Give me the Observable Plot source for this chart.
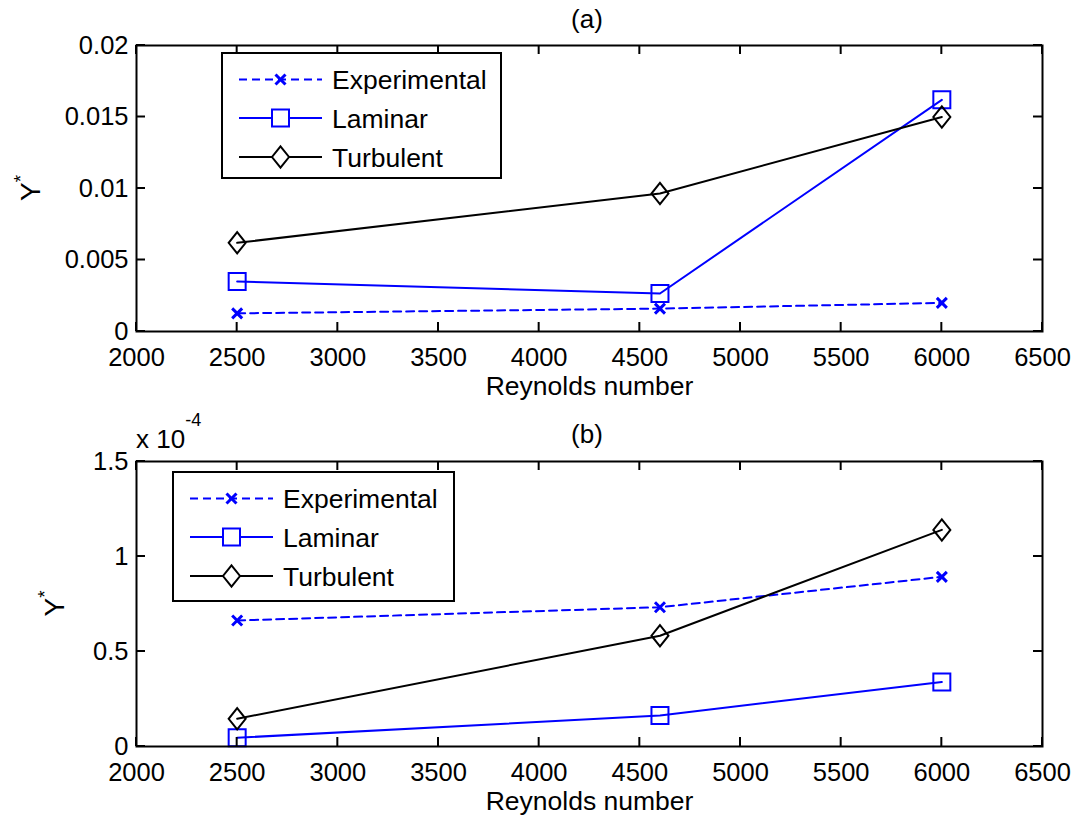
<!DOCTYPE html>
<html>
<head>
<meta charset="utf-8">
<script src="https://cdn.jsdelivr.net/npm/d3@7"></script>
<script src="https://cdn.jsdelivr.net/npm/@observablehq/plot@0.6"></script>
<style>
  body { margin: 0; background: #fff; }
  #chart { width: 1076px; height: 824px; background: #fff; }
  #chart svg { display: block; }
</style>
</head>
<body>
<div id="chart"></div>
<script>
// ---------- data ----------
const reynolds = [2500, 4600, 6000];
const seriesNames = ["Experimental", "Laminar", "Turbulent"];

// panel (a)
const expA = [0.00127, 0.0016, 0.0020];
const lamA = [0.0035, 0.00266, 0.0162];
const turA = [0.0062, 0.00965, 0.0150];

// panel (b), values in units of 1e-4
const expB = [0.663, 0.733, 0.893];
const lamB = [0.046, 0.163, 0.34];
const turB = [0.146, 0.583, 1.14];

const xTicks = [2000, 2500, 3000, 3500, 4000, 4500, 5000, 5500, 6000, 6500];
const yTicksA = [0, 0.005, 0.01, 0.015, 0.02];
const yTickLabelsA = ["0", "0.005", "0.01", "0.015", "0.02"];
const yTicksB = [0, 0.5, 1, 1.5];
const yTickLabelsB = ["0", "0.5", "1", "1.5"];

// ---------- styles ----------
const BLUE = "#0000ff";
const FONT = "'Liberation Sans', Arial, Helvetica, sans-serif";
const FS = 25.5;

const symSquare = {draw(ctx, size) {const r = Math.sqrt(size / Math.PI); ctx.moveTo(-r, -r); ctx.lineTo(r, -r); ctx.lineTo(r, r); ctx.lineTo(-r, r); ctx.closePath();}};
const symDiamond = {draw(ctx, size) {const r = Math.sqrt(size / Math.PI); const h = r * 1.25; ctx.moveTo(0, -h); ctx.lineTo(r, 0); ctx.lineTo(0, h); ctx.lineTo(-r, 0); ctx.closePath();}};
const symTimes = {draw(ctx, size) {const r = Math.sqrt(size / Math.PI); ctx.moveTo(-r, -r); ctx.lineTo(r, r); ctx.moveTo(r, -r); ctx.lineTo(-r, r);}};

const seriesStyle = {
  Experimental: {stroke: BLUE, dash: "8,5", symbol: symTimes, r: 5, sw: 2, msw: 3},
  Laminar: {stroke: BLUE, dash: null, symbol: symSquare, r: 8.5, sw: 2, msw: 2},
  Turbulent: {stroke: "black", dash: null, symbol: symDiamond, r: 8.5, sw: 2, msw: 2}
};

function panel({values, yDomain, yTicks, yTickLabels, height, marginTop, marginBottom, title, titleY, ylabelX, exponent, legendBox}) {
  const rows = reynolds.map((re, i) => ({re, Experimental: values[0][i], Laminar: values[1][i], Turbulent: values[2][i]}));
  const marks = [];
  for (const name of seriesNames) {
    const s = seriesStyle[name];
    marks.push(Plot.line(rows, {x: "re", y: name, stroke: s.stroke, strokeWidth: s.sw, strokeDasharray: s.dash}));
  }
  for (const name of seriesNames) {
    const s = seriesStyle[name];
    marks.push(Plot.dot(rows, {x: "re", y: name, symbol: s.symbol, r: s.r, stroke: s.stroke, fill: "none", strokeWidth: s.msw}));
  }
  const plot = Plot.plot({
    width: 1076,
    height,
    marginLeft: 136,
    marginRight: 34,
    marginTop,
    marginBottom,
    style: {fontFamily: FONT, fontSize: FS + "px", color: "black", background: "white", overflow: "visible"},
    x: {domain: [2000, 6500], label: null},
    y: {domain: yDomain, label: null},
    marks: [
      Plot.axisX({ticks: xTicks, tickSize: 0, tickPadding: 16, tickFormat: d => String(d), fontSize: FS, label: null}),
      Plot.axisY({ticks: yTicks, tickSize: 0, tickPadding: 8, tickFormat: d => yTickLabels[yTicks.indexOf(d)], fontSize: FS, label: null}),
      ...marks,
      Plot.frame({stroke: "black", strokeWidth: 2}),
      Plot.text(["Reynolds number"], {frameAnchor: "bottom", dy: 63, fontSize: 26.5, fill: "black"})
    ]
  });

  const svg = d3.select(plot);
  const xs = plot.scale("x"), ys = plot.scale("y");
  const L = 136, R = 1076 - 34, T = marginTop, B = height - marginBottom;
  const TK = 9;
  const g = svg.append("g").attr("stroke", "black").attr("stroke-width", 2);
  for (const t of xTicks) {
    const x = xs.apply(t);
    g.append("line").attr("x1", x).attr("x2", x).attr("y1", B).attr("y2", B - TK);
    g.append("line").attr("x1", x).attr("x2", x).attr("y1", T).attr("y2", T + TK);
  }
  for (const t of yTicks) {
    const y = ys.apply(t);
    g.append("line").attr("y1", y).attr("y2", y).attr("x1", L).attr("x2", L + TK);
    g.append("line").attr("y1", y).attr("y2", y).attr("x1", R).attr("x2", R - TK);
  }

  // title
  svg.append("text").attr("x", (L + R) / 2 - 2).attr("y", titleY).attr("dy", "0.35em")
    .attr("text-anchor", "middle").attr("font-family", FONT).attr("font-size", 26).text(title);

  // y label  Y*
  const yl = svg.append("text").attr("transform", `translate(${ylabelX},${(T + B) / 2}) rotate(-90)`)
    .attr("text-anchor", "middle").attr("font-family", FONT).attr("font-size", 28);
  yl.append("tspan").text("Y");
  yl.append("tspan").attr("dy", -13).attr("font-size", 19).text("*");

  if (exponent) {
    const ex = svg.append("text").attr("x", L).attr("y", T - 13).attr("text-anchor", "start")
      .attr("font-family", FONT).attr("font-size", 26);
    ex.append("tspan").text("x 10");
    ex.append("tspan").attr("dy", -22).attr("font-size", 18).text(exponent);
  }

  // legend
  const lg = svg.append("g").attr("transform", `translate(${legendBox[0]},${legendBox[1]})`);
  lg.append("rect").attr("width", legendBox[2]).attr("height", legendBox[3])
    .attr("fill", "white").attr("stroke", "black").attr("stroke-width", 2);
  const rowY = [26.5, 65, 104];
  seriesNames.forEach((name, i) => {
    const s = seriesStyle[name];
    const y = rowY[i];
    lg.append("line").attr("x1", 17).attr("x2", 100).attr("y1", y).attr("y2", y)
      .attr("stroke", s.stroke).attr("stroke-width", s.sw).attr("stroke-dasharray", s.dash);
    lg.append("path").attr("transform", `translate(58.5,${y})`)
      .attr("d", d3.symbol(s.symbol, s.r * s.r * Math.PI)())
      .attr("fill", "white").attr("stroke", s.stroke).attr("stroke-width", s.msw);
    lg.append("text").attr("x", 110).attr("y", y).attr("dy", "0.36em").attr("text-anchor", "start")
      .attr("font-family", FONT).attr("font-size", 26.5).text(name);
  });
  return plot;
}

const chart = document.getElementById("chart");
chart.appendChild(panel({
  values: [expA, lamA, turA],
  yDomain: [0, 0.02], yTicks: yTicksA, yTickLabels: yTickLabelsA,
  height: 410, marginTop: 45, marginBottom: 79,
  title: "(a)", titleY: 19, ylabelX: 40,
  exponent: null,
  legendBox: [222, 53, 279, 125]
}));
chart.appendChild(panel({
  values: [expB, lamB, turB],
  yDomain: [0, 1.5], yTicks: yTicksB, yTickLabels: yTickLabelsB,
  height: 414, marginTop: 51, marginBottom: 78,
  title: "(b)", titleY: 24, ylabelX: 64,
  exponent: "-4",
  legendBox: [173, 62, 281, 129]
}));
</script>
</body>
</html>
